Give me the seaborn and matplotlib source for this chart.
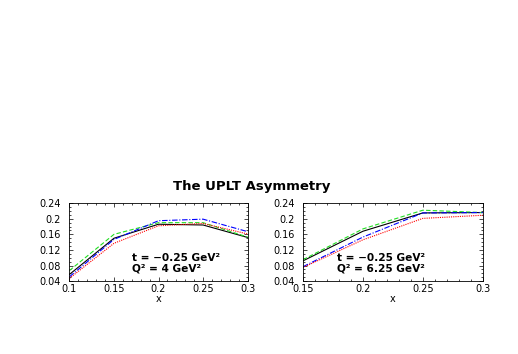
import matplotlib
matplotlib.use("Agg")
import matplotlib.pyplot as plt
from matplotlib.ticker import MultipleLocator
import seaborn as sns
import pandas as pd

# panel 1: t = -0.25, Q^2 = 4
x_left = [0.1, 0.15, 0.2, 0.25, 0.3]
black_left = [0.057, 0.150, 0.186, 0.184, 0.152]
green_left = [0.067, 0.160, 0.190, 0.190, 0.153]
blue_left = [0.051, 0.147, 0.195, 0.199, 0.167]
red_left = [0.047, 0.137, 0.182, 0.188, 0.161]

# panel 2: t = -0.25, Q^2 = 6.25
x_right = [0.15, 0.2, 0.25, 0.3]
black_right = [0.092, 0.168, 0.215, 0.216]
green_right = [0.095, 0.174, 0.222, 0.216]
blue_right = [0.077, 0.153, 0.215, 0.216]
red_right = [0.075, 0.146, 0.201, 0.209]

sns.set_style("ticks")
plt.rcParams["font.family"] = ["DejaVu Sans"]
plt.rcParams.update({"text.color": "black", "axes.labelcolor": "black",
                     "xtick.color": "black", "ytick.color": "black",
                     "axes.edgecolor": "black"})

fig = plt.figure(figsize=(5.18, 3.54), dpi=100)
ax1 = fig.add_axes([0.134, 0.206, 0.344, 0.22])
ax2 = fig.add_axes([0.585, 0.206, 0.347, 0.22])

styles = [("black", "-"), ("#22dd22", (0, (4, 2))), ("blue", (0, (5, 1.5, 1, 1.5))), ("red", (0, (1, 1)))]


def draw_panel(ax, xs, series, xticks, xlabels, q2, tx):
    for (col, ls), ys in zip(styles, series):
        df = pd.DataFrame({"x": xs, "y": ys})
        sns.lineplot(data=df, x="x", y="y", ax=ax, color=col, linestyle=ls, linewidth=0.8)
    ax.set_xlim(xticks[0], xticks[-1])
    ax.set_ylim(0.04, 0.24)
    ax.set_xticks(xticks)
    ax.set_xticklabels(xlabels)
    ax.set_yticks([0.04, 0.08, 0.12, 0.16, 0.2, 0.24])
    ax.set_yticklabels(["0.04", "0.08", "0.12", "0.16", "0.2", "0.24"])
    ax.xaxis.set_minor_locator(MultipleLocator(0.01))
    ax.yaxis.set_minor_locator(MultipleLocator(0.01))
    ax.tick_params(which="both", direction="in", top=True, right=True, width=0.5)
    ax.tick_params(which="major", labelsize=7, length=3)
    ax.tick_params(which="minor", length=1.5)
    ax.tick_params(axis="x", pad=2)
    ax.tick_params(axis="y", pad=6)
    for s in ax.spines.values():
        s.set_linewidth(0.6)
    ax.set_xlabel("x", fontsize=7, labelpad=0)
    ax.set_ylabel("")
    ax.text(tx, 0.255, "t = \u22120.25 GeV\u00b2", transform=ax.transAxes, fontsize=7.6,
            fontweight="bold", ha="left")
    ax.text(tx, 0.12, "Q\u00b2 = " + q2 + " GeV\u00b2", transform=ax.transAxes, fontsize=7.6,
            fontweight="bold", ha="left")


draw_panel(ax1, x_left, [black_left, green_left, blue_left, red_left],
           [0.1, 0.15, 0.2, 0.25, 0.3], ["0.1", "0.15", "0.2", "0.25", "0.3"], "4", 0.35)
draw_panel(ax2, x_right, [black_right, green_right, blue_right, red_right],
           [0.15, 0.2, 0.25, 0.3], ["0.15", "0.2", "0.25", "0.3"], "6.25", 0.19)

fig.text(0.485, 0.463, "The UPLT Asymmetry", fontsize=9.5, fontweight="bold", ha="center")

fig.savefig("out.png", dpi=100)
